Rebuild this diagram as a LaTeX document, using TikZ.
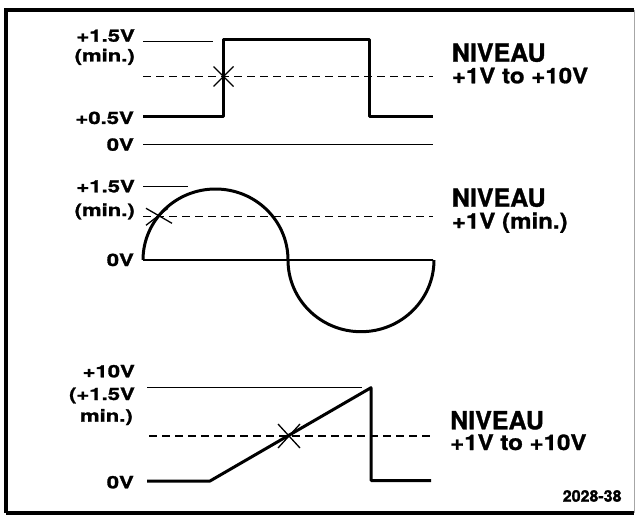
\documentclass[tikz,border=0pt]{standalone}
\usepackage{fontspec}
\setmainfont{texgyreheros-bold.otf}[FakeBold=1.2]
\newfontfamily\widefont{texgyreheros-bold.otf}[FakeStretch=1.3, FakeBold=1.6]
\newfontfamily\spanfont{texgyreheros-bold.otf}[FakeStretch=1.12, FakeBold=1.2]

\begin{document}
\begin{tikzpicture}[
  x=1pt, y=-1pt,
  font=\normalfont, text=black,
  frame/.style={draw=black, line width=3.5pt},
  wave/.style={draw=black, line width=3pt, line join=round},
  rail/.style={draw=black, line width=1.3pt},
  threshold/.style={draw=black, line width=1.5pt, dash pattern=on 8pt off 5pt},
  cross/.style={draw=black, line width=1.3pt},
  axislabel/.style={anchor=base east, inner sep=0pt, font=\widefont\fontsize{17}{20}\selectfont},
  heading/.style={anchor=base west, inner sep=0pt, font=\fontsize{25}{28}\selectfont},
  levelspan/.style={anchor=base west, inner sep=0pt, font=\spanfont\fontsize{21.5}{24}\selectfont},
  note/.style={anchor=base east, inner sep=0pt, font=\fontsize{16}{18}\selectfont}
]
\useasboundingbox (0,0) rectangle (637,516);

% Frame: heavy on three sides, faint on the right.
\draw[frame] (6,513) -- (6,10) -- (634,10);
\draw[frame] (6,513) -- (634,513);
\draw[black!35, line width=.8pt] (634,10) -- (634,513);

% (1) Pulse: +0.5V base, +1.5V top.
\node[axislabel] (p1high) at (135,41.7) {+1.5V};
\node[axislabel] (p1min) at (135,61.5) {(min.)};
\node[axislabel] (p1low) at (134,124) {+0.5V};
\node[axislabel] (p1zero) at (134,150.7) {0V};
\draw[rail] (143,41.7) -- (213,41.7);
\draw[rail] (143,144.5) -- (433,144.5);
\draw[threshold] (143,76.5) -- (433,76.5);
\draw[wave] (143,117) -- (223.5,117) -- (223.5,39.5) -- (369,39.5)
  -- (369,117) -- (433,117);
\coordinate (trig1) at (223.5,76.5);
\draw[cross] (trig1) ++(-10,-10) -- ++(20,20);
\draw[cross] (trig1) ++(-10,10) -- ++(20,-20);
\node[heading] (niveau1) at (451.7,61.7) {NIVEAU};
\node[levelspan] (span1) at (451.7,83.3) {+1V to +10V};

% (2) Sine: crosses the dashed level on the rising half.
\node[axislabel] (p2high) at (135,192.3) {+1.5V};
\node[axislabel] (p2min) at (135,216) {(min.)};
\node[axislabel] (p2zero) at (134,266) {0V};
\draw[rail] (143,186.7) -- (188,186.7);
\draw[rail] (143,260) -- (433,260);
\draw[threshold] (143,216.3) -- (433,216.3);
\draw[wave] (143,260) arc[start angle=180, end angle=0, x radius=72.5, y radius=-71]
  arc[start angle=180, end angle=360, x radius=73, y radius=-71.7];
\coordinate (trig2) at (159,216.3);
\draw[cross] (trig2) ++(-13,-8) -- ++(26,15);
\draw[cross] (trig2) ++(-13,9) -- ++(22,-17);
\node[heading] (niveau2) at (451.7,206.7) {NIVEAU};
\node[levelspan] (span2) at (451.7,228.5) {+1V (min.)};

% (3) Ramp: 0V up to +10V, then back down.
\node[axislabel] (p3high) at (135,377.3) {+10V};
\node[axislabel] (p3mid) at (135,400) {(+1.5V};
\node[axislabel] (p3min) at (133,421.7) {min.)};
\node[axislabel] (p3zero) at (134,488.3) {0V};
\draw[rail] (147,387.7) -- (362,387.7);
\draw[threshold] (149,436) -- (433,436);
\draw[wave] (147,481) -- (210,481) -- (371,387.7) -- (371,480.5) -- (431,480.5);
\coordinate (trig3) at (289,436);
\draw[cross] (trig3) ++(-11,-12) -- ++(22,24);
\draw[cross] (trig3) ++(-11,12) -- ++(22,-24);
\node[heading] (niveau3) at (450,429.3) {NIVEAU};
\node[levelspan] (span3) at (450,450) {+1V to +10V};

\node[note] (figno) at (621.7,501.7) {2028-38};
\end{tikzpicture}
\end{document}
